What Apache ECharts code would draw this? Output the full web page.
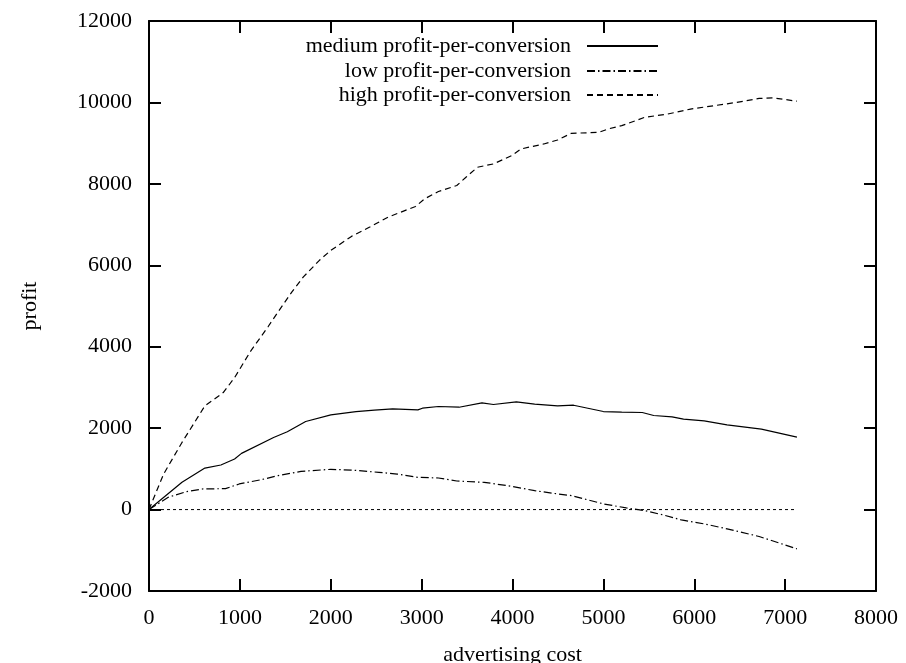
<!DOCTYPE html>
<html>
<head>
<meta charset="utf-8">
<script src="https://cdn.jsdelivr.net/npm/echarts@6/dist/echarts.min.js"></script>
<style>
html,body{margin:0;padding:0;background:#fff;}
#chart{width:906px;height:663px;}
</style>
</head>
<body>
<div id="chart"></div>
<script>
// Tick labels
const xTicks = [0, 1000, 2000, 3000, 4000, 5000, 6000, 7000, 8000];
const yTicks = [-2000, 0, 2000, 4000, 6000, 8000, 10000, 12000];

// medium profit-per-conversion (solid)
const medX = [0, 363, 615, 791, 942, 1018, 1371, 1522, 1724, 2001, 2278, 2480, 2681, 2959, 3009, 3185, 3412, 3664, 3790, 4042, 4244, 4496, 4672, 5000, 5202, 5428, 5554, 5756, 5882, 6109, 6361, 6739, 7130];
const medY = [0, 669, 1020, 1094, 1241, 1380, 1771, 1910, 2163, 2327, 2408, 2441, 2473, 2449, 2490, 2531, 2514, 2620, 2580, 2645, 2588, 2547, 2563, 2408, 2392, 2384, 2310, 2278, 2220, 2180, 2082, 1976, 1780];

// low profit-per-conversion (dash-dot)
const lowX = [0, 212, 413, 590, 842, 993, 1220, 1421, 1673, 2001, 2228, 2530, 2732, 2959, 3185, 3387, 3689, 3942, 4244, 4446, 4647, 5000, 5252, 5454, 5655, 5857, 6109, 6361, 6714, 7130];
const lowY = [0, 302, 441, 506, 514, 629, 727, 833, 939, 988, 971, 914, 873, 792, 776, 702, 669, 588, 465, 400, 343, 139, 41, -24, -131, -253, -351, -473, -661, -965];

// high profit-per-conversion (dashed)
const highX = [0, 161, 363, 615, 817, 942, 1119, 1310, 1421, 1573, 1699, 1875, 2001, 2228, 2429, 2631, 2933, 3034, 3185, 3387, 3488, 3614, 3790, 3992, 4093, 4345, 4496, 4647, 4950, 5050, 5202, 5454, 5706, 5958, 6210, 6462, 6714, 6865, 7130];
const highY = [0, 873, 1649, 2547, 2873, 3241, 3894, 4490, 4857, 5347, 5714, 6122, 6367, 6710, 6939, 7184, 7445, 7633, 7812, 7959, 8163, 8408, 8490, 8694, 8857, 8980, 9078, 9241, 9265, 9347, 9429, 9633, 9714, 9837, 9918, 10000, 10098, 10114, 10030];

// zero reference line
const zeroX = [0, 7130];
const zeroY = [0, 0];

const seriesNames = ['medium profit-per-conversion', 'low profit-per-conversion', 'high profit-per-conversion'];

function pairs(xs, ys) { return xs.map((x, i) => [x, ys[i]]); }

const FONT = 'Liberation Serif';
const FS = 22;
const chart = echarts.init(document.getElementById('chart'), null, {renderer: 'canvas'});

function legendFor(name, top) {
  return {
    data: [name],
    right: 247,
    top: top,
    orient: 'vertical',
    align: 'right',
    padding: 0,
    itemWidth: 71,
    itemHeight: 20,
    selectedMode: false,
    itemStyle: {opacity: 0},
    textStyle: {fontFamily: FONT, fontSize: FS, color: '#000', padding: [0, 11, 0, 0]}
  };
}

const baseX = {
  type: 'value', min: 0, max: 8000, interval: 1000,
  axisLine: {show: true, onZero: false, lineStyle: {color: '#000', width: 2}},
  axisTick: {show: true, inside: true, length: 12, lineStyle: {color: '#000', width: 2}},
  splitLine: {show: false}
};
const baseY = {
  type: 'value', min: -2000, max: 12000, interval: 2000,
  axisLine: {show: true, onZero: false, lineStyle: {color: '#000', width: 2}},
  axisTick: {show: true, inside: true, length: 12, lineStyle: {color: '#000', width: 2}},
  splitLine: {show: false}
};

chart.setOption({
  animation: false,
  backgroundColor: '#fff',
  grid: {left: 149, right: 30, top: 21, bottom: 72, containLabel: false, outerBoundsMode: 'none'},
  legend: [legendFor(seriesNames[0], 35), legendFor(seriesNames[1], 60), legendFor(seriesNames[2], 84)],
  xAxis: [
    Object.assign({}, baseX, {
      position: 'bottom',
      name: 'advertising cost', nameLocation: 'middle', nameGap: 53,
      nameTextStyle: {fontFamily: FONT, fontSize: FS, color: '#000'},
      axisLabel: {margin: 16, fontFamily: FONT, fontSize: FS, color: '#000',
        formatter: v => xTicks.includes(v) ? String(v) : ''}
    }),
    Object.assign({}, baseX, {position: 'top', axisLabel: {show: false}})
  ],
  yAxis: [
    Object.assign({}, baseY, {
      position: 'left',
      name: 'profit', nameLocation: 'middle', nameGap: 108, nameRotate: 90,
      nameTextStyle: {fontFamily: FONT, fontSize: FS, color: '#000'},
      axisLabel: {margin: 17, fontFamily: FONT, fontSize: FS, color: '#000',
        formatter: v => yTicks.includes(v) ? String(v) : ''}
    }),
    Object.assign({}, baseY, {position: 'right', axisLabel: {show: false}})
  ],
  series: [
    {name: seriesNames[0], type: 'line', data: pairs(medX, medY), symbol: 'none', color: '#000',
      lineStyle: {color: '#000', width: 1.2, type: 'solid'}},
    {name: seriesNames[1], type: 'line', data: pairs(lowX, lowY), symbol: 'none', color: '#000',
      lineStyle: {color: '#000', width: 1.2, type: [8, 3, 1.5, 3]}},
    {name: seriesNames[2], type: 'line', data: pairs(highX, highY), symbol: 'none', color: '#000',
      lineStyle: {color: '#000', width: 1.2, type: [6, 4]}},
    {name: 'zero', type: 'line', data: pairs(zeroX, zeroY), symbol: 'none', color: '#000',
      lineStyle: {color: '#000', width: 1, type: [3, 3]}}
  ]
});
</script>
</body>
</html>
